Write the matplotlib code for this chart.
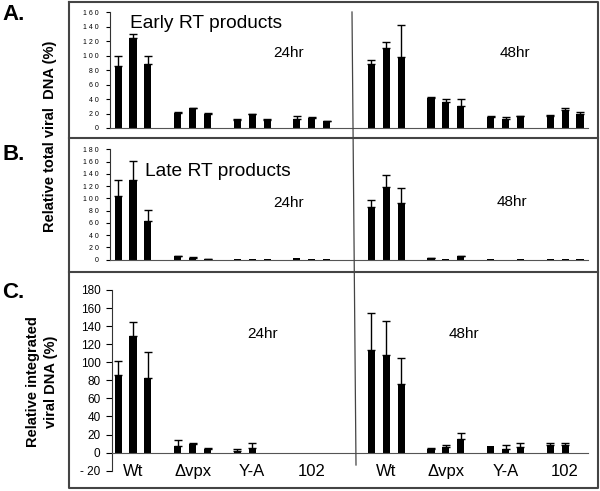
import matplotlib.pyplot as plt
from matplotlib.lines import Line2D
import numpy as np

plt.rcParams['font.family'] = ['Liberation Sans', 'DejaVu Sans']

# data: three replicates per virus, groups Wt, dvpx, Y-A, 102
groups = ["Wt", "\u0394vpx", "Y-A", "102"]

early_24 = [86, 125, 88, 21, 27, 20, 11, 19, 11, 13, 14, 9]
early_24_err = [14, 4.5, 12, 1, 1, 1, 1, 1, 1, 4, 1, 1]
early_48 = [89, 111, 98, 41, 35.5, 30.5, 15, 13, 16, 16.5, 25.5, 20]
early_48_err = [5, 8, 45, 2, 4.5, 9.5, 1, 2.5, 1, 1, 2, 2]

late_24 = [103, 130, 63, 5, 3, 1, 1, 1, 1, 2, 1, 1]
late_24_err = [27, 31, 18, 0.5, 0.3, 0.2, 0, 0, 0, 0, 0, 0]
late_48 = [86, 118, 92, 2.5, 1, 5.5, 1, 0, 1, 1, 1, 1]
late_48_err = [12, 20, 24, 0.5, 0, 0.5, 0, 0, 0, 0, 0, 0]

integ_24 = [86, 129, 83, 7.5, 9.5, 3.5, 2, 5.5, 0, 0, 0, 0]
integ_24_err = [15, 16, 28, 7, 1, 2, 2, 5.5, 0, 0, 0, 0]
integ_48 = [113.5, 108.5, 76, 3.5, 6.5, 15, 7, 4, 6.5, 8, 8, 0]
integ_48_err = [41.5, 37, 29, 2, 1.5, 7, 0, 4, 4.5, 2.5, 2.5, 0]

W, H = 600, 491
fig = plt.figure(figsize=(6, 4.91), dpi=100)

def fx(px):
    return px / W

def fy(py):
    return 1 - py / H

# group centres (24hr then 48hr) in data units
centres = np.concatenate([np.arange(4), np.arange(4) + 4.25])
offsets = np.array([-0.25, 0, 0.25])
xpos = (centres[:, None] + offsets[None, :]).ravel()
scale = 59.6  # px per data unit
origin = 133

def make_ax(left_px, top_px, bottom_px, ylo, yhi):
    ax = fig.add_axes([fx(left_px), fy(bottom_px), fx(588) - fx(left_px), fy(top_px) - fy(bottom_px)])
    ax.set_xlim((left_px - origin) / scale, (588 - origin) / scale)
    ax.set_ylim(ylo, yhi)
    ax.patch.set_alpha(0)
    for s in ['top', 'right']:
        ax.spines[s].set_visible(False)
    ax.spines['left'].set_color('#333333')
    ax.spines['bottom'].set_color('#555555')
    ax.set_xticks([])
    return ax

def draw(ax, v24, e24, v48, e48):
    vals = np.array(v24 + v48)
    errs = np.array(e24 + e48)
    ax.bar(xpos, vals, width=0.12, color='black')
    m = errs > 0
    ax.errorbar(xpos[m], vals[m], yerr=[np.zeros(m.sum()), errs[m]], fmt='none',
                ecolor='black', elinewidth=1, capsize=3, capthick=1)

def small_ticks(ax, ticks):
    ax.set_yticks(ticks)
    ax.set_yticklabels([' '.join(str(t)) for t in ticks], fontsize=5)
    ax.tick_params(axis='y', length=3, pad=5, width=0.8)

# panel A
axA = make_ax(110, 12.3, 128, 0, 160)
draw(axA, early_24, early_24_err, early_48, early_48_err)
small_ticks(axA, list(range(0, 161, 20)))

# panel B
axB = make_ax(110, 149.3, 259.5, 0, 180)
draw(axB, late_24, late_24_err, late_48, late_48_err)
small_ticks(axB, list(range(0, 181, 20)))

# panel C
axC = make_ax(111.7, 290, 470.7, -20, 180)
axC.spines['bottom'].set_position(('data', 0))
draw(axC, integ_24, integ_24_err, integ_48, integ_48_err)
cticks = list(range(-20, 181, 20))
axC.set_yticks(cticks)
axC.set_yticklabels(['- 20' if t < 0 else str(t) for t in cticks], fontsize=8.5)
axC.tick_params(axis='y', length=4, pad=4, width=0.8)
for c, g in zip(centres, groups * 2):
    axC.text(c, -21, g, ha='center', va='center', fontsize=12)

# panel texts
fig.text(fx(130), fy(23), "Early RT products", fontsize=13.8, va='center')
fig.text(fx(273), fy(53), "24hr", fontsize=11, va='center')
fig.text(fx(500), fy(53), "48hr", fontsize=11, va='center')
fig.text(fx(145), fy(172), "Late RT products", fontsize=13.8, va='center')
fig.text(fx(273), fy(203), "24hr", fontsize=11, va='center')
fig.text(fx(497), fy(202), "48hr", fontsize=11, va='center')
fig.text(fx(247), fy(334), "24hr", fontsize=11, va='center')
fig.text(fx(449), fy(334), "48hr", fontsize=11, va='center')

# panel letters and y labels
for lab, py in [("A.", 14), ("B.", 155), ("C.", 293)]:
    fig.text(fx(2), fy(py), lab, fontsize=16, fontweight='bold', va='center')
fig.text(fx(50), fy(136), "Relative total viral  DNA (%)", rotation=90,
         fontsize=10.5, fontweight='bold', ha='center', va='center')
fig.text(fx(42), fy(382), "Relative integrated\nviral DNA (%)", rotation=90,
         fontsize=10.5, fontweight='bold', ha='center', va='center', linespacing=1.3)

# frame, panel separators and 24/48 divider
frame_kw = dict(color='#444444', lw=1.5, transform=fig.transFigure)
fig.add_artist(Line2D([fx(69), fx(598), fx(598), fx(69), fx(69)],
                      [fy(1.5), fy(1.5), fy(488), fy(488), fy(1.5)], **frame_kw))
fig.add_artist(Line2D([fx(69), fx(598)], [fy(138), fy(138)], **frame_kw))
fig.add_artist(Line2D([fx(69), fx(598)], [fy(272), fy(272)], **frame_kw))
fig.add_artist(Line2D([fx(352), fx(356)], [fy(12), fy(465)], color='#444444',
                      lw=0.9, transform=fig.transFigure))

fig.savefig("out.png", dpi=100)
